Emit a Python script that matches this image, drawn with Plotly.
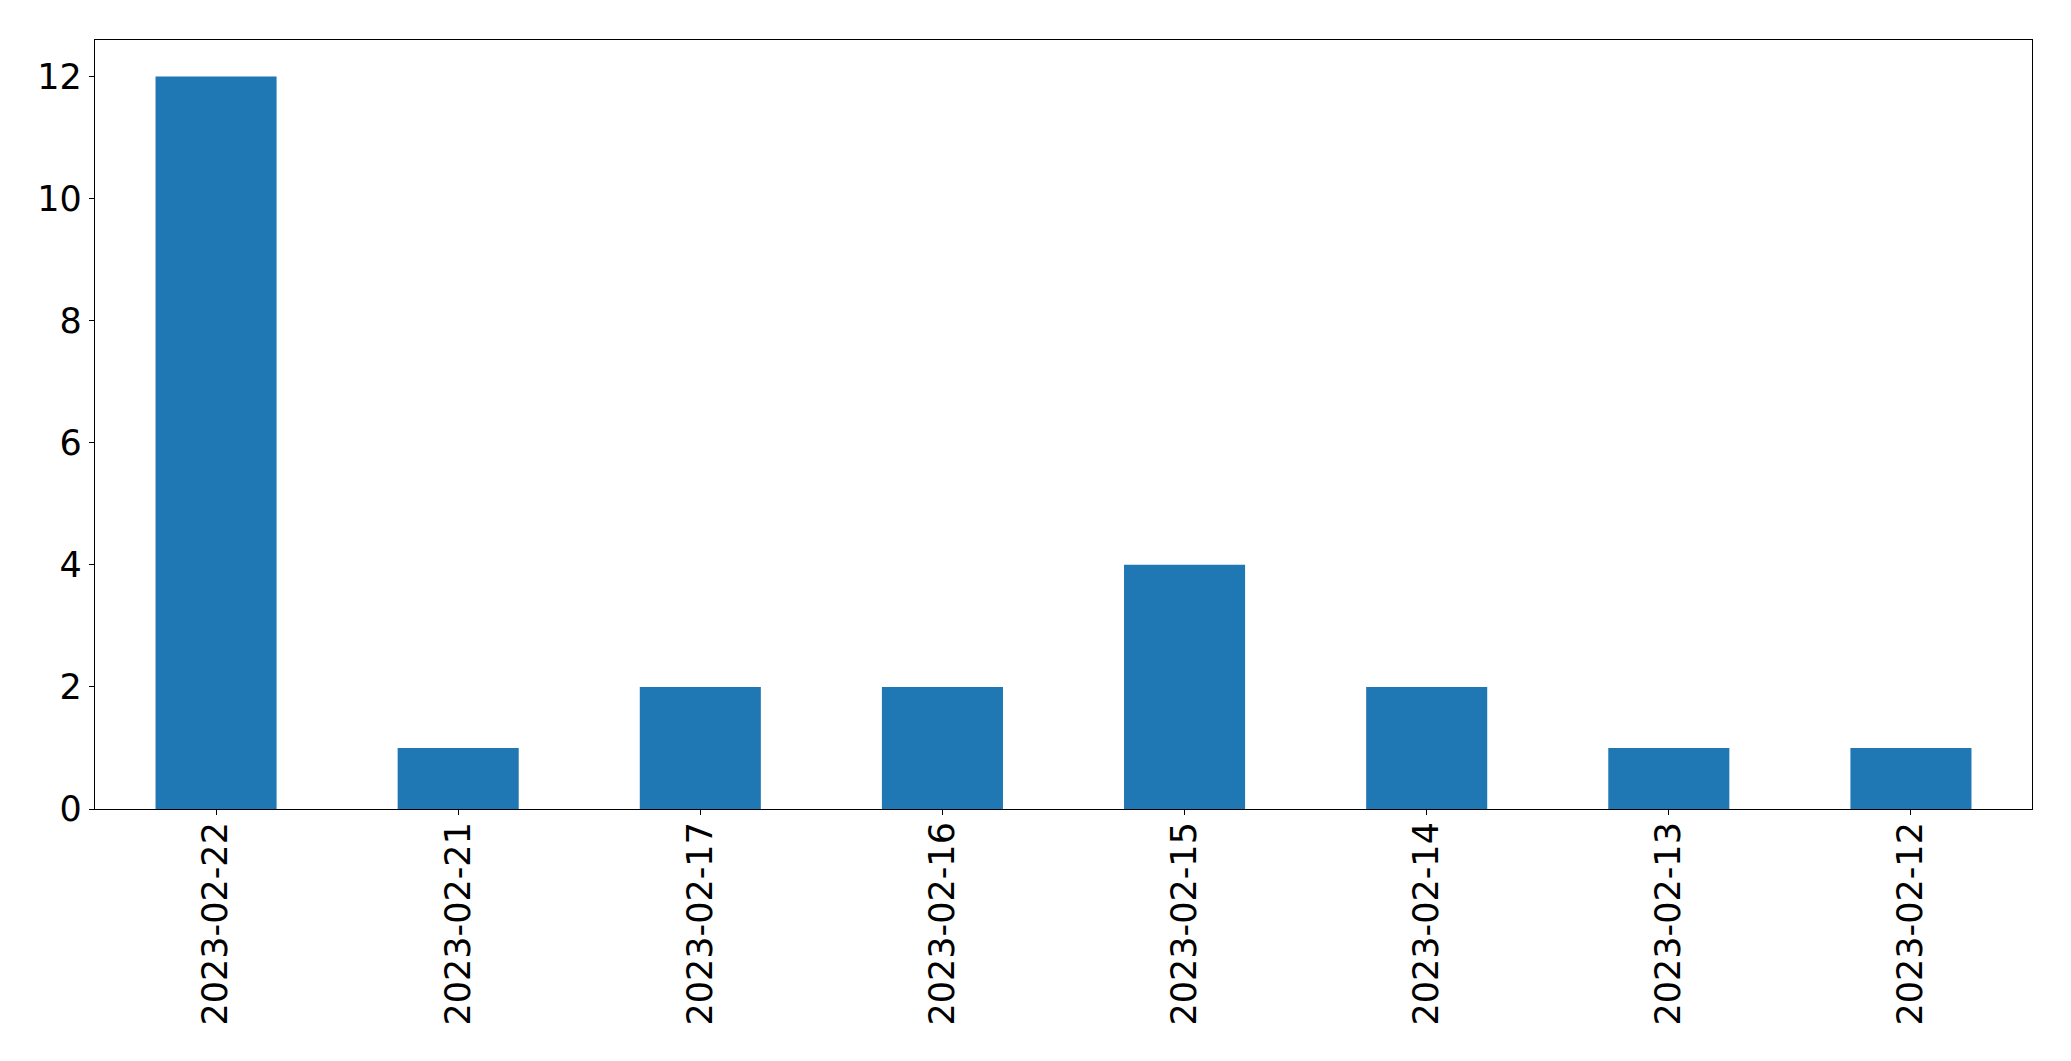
import plotly.graph_objects as go

dates = ["2023-02-22", "2023-02-21", "2023-02-17", "2023-02-16",
         "2023-02-15", "2023-02-14", "2023-02-13", "2023-02-12"]
counts = [12, 1, 2, 2, 4, 2, 1, 1]
y_ticks = [0, 2, 4, 6, 8, 10, 12]

fig = go.Figure(go.Bar(x=dates, y=counts, width=0.5, marker=dict(color="#1f77b4", line=dict(width=0))))

fig.update_layout(
    width=2071, height=1061,
    margin=dict(l=94.5, r=39, t=39.5, b=252),
    paper_bgcolor="white", plot_bgcolor="white",
    font=dict(family="DejaVu Sans", size=35, color="black"),
    showlegend=False,
)
fig.update_xaxes(type="category", range=[-0.5, 7.5], tickangle=-90,
                 showline=True, linecolor="black", linewidth=1.2, mirror=True,
                 ticks="outside", ticklen=5, tickcolor="black", tickwidth=1.2,
                 ticklabelstandoff=-7,
                 showgrid=False, zeroline=False, automargin=False)
fig.update_yaxes(range=[0, 12.6], tickvals=y_ticks,
                 showline=True, linecolor="black", linewidth=1.2, mirror=True,
                 ticks="outside", ticklen=5, tickcolor="black", tickwidth=1.2,
                 showgrid=False, zeroline=False, automargin=False)

fig.write_html("out.html", config={"displayModeBar": False},
               post_script="document.body.style.margin='0px';document.body.style.overflow='hidden';")
